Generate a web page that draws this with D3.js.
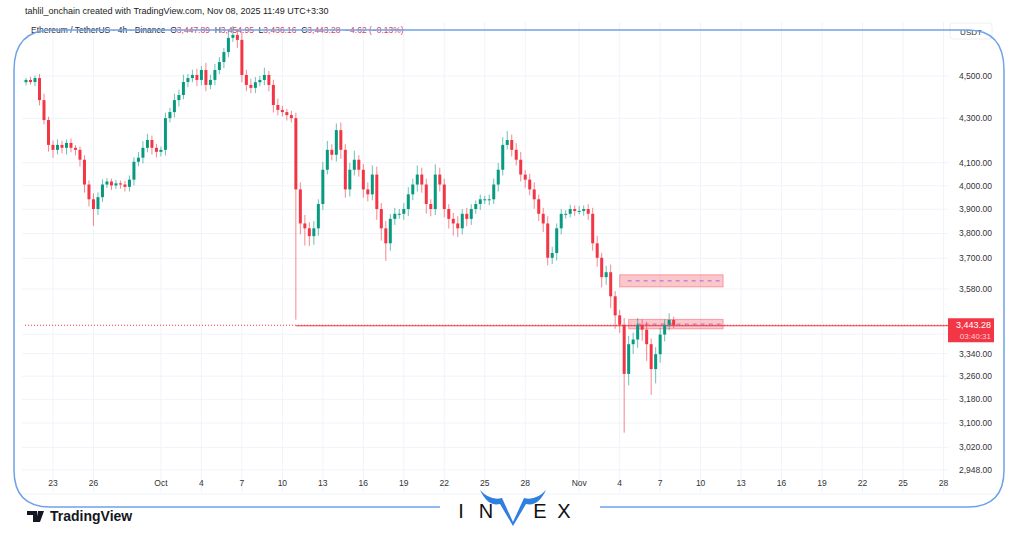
<!DOCTYPE html>
<html><head><meta charset="utf-8">
<script src="https://cdn.jsdelivr.net/npm/d3@7"></script>
<style>body{margin:0;background:#fff;}svg{display:block;font-family:"Liberation Sans",Arial,sans-serif;}</style>
</head><body>
<svg id="vis" width="1024" height="538"></svg>
<script>
// 8h candles, Sep 21 00:00 UTC onward; open = previous close
var closes = [4481,4471,4490,4385,4292,4179,4157,4179,4166,4188,4166,4157,4113,4005,3942,3901,3951,4005,4018,4001,
  4010,4005,3995,4026,4104,4122,4166,4201,4166,4148,4157,4301,4329,4385,4409,4471,4490,4505,4481,4529,4457,4481,
  4529,4568,4617,4688,4703,4678,4505,4457,4443,4470,4481,4505,4457,4362,4339,4329,4315,4301,3984,3841,3821,
  3789,3821,3922,4069,4157,4135,4246,4157,3984,4069,4113,4069,3984,3963,4048,3901,3821,3760,3860,3881,
  3881,3901,3963,4005,4048,4005,3922,3901,4048,4005,3901,3860,3841,3821,3881,3860,3901,3922,3942,3942,
  3942,4005,4069,4179,4201,4157,4113,4048,4026,3984,3942,3881,3841,3702,3721,3821,3881,3881,3901,3893,
  3893,3901,3881,3760,3702,3626,3645,3552,3480,3445,3268,3374,3391,3445,3427,3374,3285,3338,
  3409,3445,3463,3443.28];
var firstOpen = 4470;
// wick extension above max(open,close) and below min(open,close), in USDT
var wickUp = [10,15,12,20,30,15,20,25,18,15,20,12,15,20,18,25,20,22,15,12,
  15,12,15,18,20,25,30,28,20,18,15,25,20,30,25,35,20,25,30,20,35,25,
  30,25,20,40,45,30,40,25,30,25,20,35,20,25,30,20,15,20,25,30,35,
  25,30,20,35,40,25,30,35,25,30,40,20,25,30,40,35,25,30,20,25,
  20,25,30,25,40,30,25,20,45,30,25,20,25,30,20,25,20,15,20,15,
  20,25,30,35,40,25,30,35,20,25,30,20,25,30,25,20,20,15,18,15,
  20,15,20,25,30,20,25,30,20,20,25,30,25,25,20,30,20,25,
  25,20,25,12];
var wickDn = [15,12,20,25,20,30,35,20,25,30,20,25,30,35,30,70,25,20,15,20,
  15,18,20,20,25,20,25,20,30,25,20,25,20,25,30,20,25,20,30,25,30,20,
  25,20,30,25,20,40,35,30,25,25,20,25,30,35,25,20,25,20,520,45,70,
  40,35,30,25,20,25,30,40,35,30,25,30,35,30,25,45,50,70,30,25,
  20,25,30,25,30,35,40,30,25,30,35,40,50,35,25,30,25,20,25,20,
  25,20,30,25,20,30,25,30,35,25,40,30,35,30,25,30,25,20,15,20,
  15,20,25,30,35,40,30,45,50,30,200,40,35,30,40,60,90,50,
  30,25,20,10];

var priceTicks = [4500,4300,4100,4000,3900,3800,3700,3580,3410,3340,3260,3180,3100,3020,2948];
var timeTickDates = ["2025-09-23","2025-09-26","2025-10-01","2025-10-04","2025-10-07","2025-10-10","2025-10-13",
  "2025-10-16","2025-10-19","2025-10-22","2025-10-25","2025-10-28","2025-11-01","2025-11-04","2025-11-07",
  "2025-11-10","2025-11-13","2025-11-16","2025-11-19","2025-11-22","2025-11-25","2025-11-28"];
var lastPrice = 3443.28;
var zones = [{top:3635,bottom:3588,from:"2025-11-04T00:00Z",to:"2025-11-11T16:00Z"},
             {top:3465,bottom:3430,from:"2025-11-04T16:00Z",to:"2025-11-11T16:00Z"}];

var svg = d3.select("#vis");
var t0 = new Date("2025-09-21T00:00Z");
var x = d3.scaleUtc().domain([t0, new Date("2025-11-28T08:00Z")]).range([26, 948]);
var y = d3.scaleLog().domain([2885, 4738]).range([490, 28]);
var green = "#089981", red = "#f23645";

var candles = closes.map(function (c, i) {
  var o = i === 0 ? firstOpen : closes[i - 1];
  return {t: new Date(+t0 + i * 8 * 3600e3), o: o, c: c,
    h: Math.max(o, c) + wickUp[i], l: Math.min(o, c) - wickDn[i]};
});

// grid
var ticksT = timeTickDates.map(function (d) { return new Date(d + "T00:00Z"); });
svg.append("g").selectAll("line").data(ticksT).join("line")
  .attr("x1", d => x(d)).attr("x2", d => x(d)).attr("y1", 22).attr("y2", 492)
  .attr("stroke", "#f0f3fa");
svg.append("g").selectAll("line").data(priceTicks).join("line")
  .attr("x1", 22).attr("x2", 948).attr("y1", d => y(d)).attr("y2", d => y(d))
  .attr("stroke", "#f0f3fa");

// zones
zones.forEach(function (z) {
  svg.append("rect").attr("x", x(new Date(z.from))).attr("width", x(new Date(z.to)) - x(new Date(z.from)))
    .attr("y", y(z.top)).attr("height", y(z.bottom) - y(z.top))
    .attr("fill", "rgba(242,54,69,0.28)").attr("stroke", "rgba(242,54,69,0.4)");
  svg.append("line").attr("x1", x(new Date(z.from)) + 8).attr("x2", x(new Date(z.to)))
    .attr("y1", y((z.top + z.bottom) / 2)).attr("y2", y((z.top + z.bottom) / 2))
    .attr("stroke", "#9c6fd6").attr("stroke-dasharray", "4,4");
});

// last price lines
svg.append("line").attr("x1", 25).attr("x2", 948).attr("y1", y(lastPrice)).attr("y2", y(lastPrice))
  .attr("stroke", red).attr("stroke-dasharray", "1,2");
svg.append("line").attr("x1", x(candles[60].t)).attr("x2", 948).attr("y1", y(lastPrice) + 0.5).attr("y2", y(lastPrice) + 0.5)
  .attr("stroke", red).attr("stroke-width", 1.2);

// candles
var g = svg.append("g");
g.selectAll("line").data(candles).join("line")
  .attr("x1", d => x(d.t)).attr("x2", d => x(d.t)).attr("y1", d => y(d.h)).attr("y2", d => y(d.l))
  .attr("stroke", d => d.c >= d.o ? green : red).attr("stroke-opacity", 0.6);
g.selectAll("rect").data(candles).join("rect")
  .attr("x", d => x(d.t) - 1.5).attr("width", 3)
  .attr("y", d => y(Math.max(d.o, d.c))).attr("height", d => Math.max(1, y(Math.min(d.o, d.c)) - y(Math.max(d.o, d.c))))
  .attr("fill", d => d.c >= d.o ? green : red);

// price axis
svg.append("g").selectAll("text").data(priceTicks).join("text")
  .attr("x", 992).attr("y", d => y(d) + 3).attr("text-anchor", "end")
  .attr("font-size", 8.5).attr("fill", "#333").text(d => d3.format(",.2f")(d));
svg.append("rect").attr("x", 950).attr("y", 23).attr("width", 42).attr("height", 16).attr("rx", 3)
  .attr("fill", "#fff").attr("stroke", "#eee");
svg.append("text").attr("x", 971).attr("y", 35).attr("text-anchor", "middle").attr("font-size", 8).attr("fill", "#333").text("USDT");
svg.append("rect").attr("x", 948).attr("y", y(lastPrice) - 7).attr("width", 46).attr("height", 24).attr("fill", red);
svg.append("text").attr("x", 991).attr("y", y(lastPrice) + 3).attr("text-anchor", "end").attr("font-size", 9).attr("fill", "#fff").text(d3.format(",.2f")(lastPrice));
svg.append("text").attr("x", 991).attr("y", y(lastPrice) + 14).attr("text-anchor", "end").attr("font-size", 8).attr("fill", "#ffd0d4").text("03:40:31");

// time axis
var fmt = function (d) { return d.getUTCDate() === 1 ? d3.utcFormat("%b")(d) : d.getUTCDate(); };
svg.append("g").selectAll("text").data(ticksT).join("text")
  .attr("x", d => x(d)).attr("y", 486).attr("text-anchor", "middle")
  .attr("font-size", 8.5).attr("fill", "#333").text(fmt);
svg.append("line").attr("x1", 22).attr("x2", 1000).attr("y1", 494).attr("y2", 494).attr("stroke", "#f0f3fa");

// header texts
svg.append("text").attr("x", 25).attr("y", 14).attr("font-size", 9).attr("fill", "#222")
  .text("tahlil_onchain created with TradingView.com, Nov 08, 2025 11:49 UTC+3:30");
var leg = svg.append("text").attr("x", 31).attr("y", 33).attr("font-size", 8.5);
[["Ethereum / TetherUS · 4h · Binance  ", "#2a2e39"], ["O", "#2a2e39"], ["3,447.89  ", "#e0405a"], ["H", "#2a2e39"], ["3,454.95  ", "#e0405a"],
 ["L", "#2a2e39"], ["3,436.16  ", "#e0405a"], ["C", "#2a2e39"], ["3,443.28  −4.62 (−0.13%)", "#e0405a"]].forEach(function (p) {
  leg.append("tspan").attr("fill", p[1]).attr("xml:space", "preserve").text(p[0]);
});

// frame
svg.append("path").attr("d", "M440,507 H50 Q14,507 14,470 V70 Q14,30 52,30 H968 Q1004,30 1004,70 V470 Q1004,507 968,507 H600")
  .attr("fill", "none").attr("stroke", "#6ea3e8").attr("stroke-width", 1.5);

// logos
svg.append("path").attr("d", "M27,511 H37 V522 H33 V515 H27Z M38,511 H44 L40,522 H36Z").attr("fill", "#131722");
svg.append("circle").attr("cx", 40).attr("cy", 513).attr("r", 0).attr("fill", "#131722");
svg.append("text").attr("x", 50).attr("y", 521).attr("font-size", 14).attr("font-weight", "bold").attr("fill", "#131722").text("TradingView");
var ix = svg.append("g").attr("font-size", 20).attr("fill", "#111").attr("text-anchor", "middle");
[["I", 461], ["N", 486], ["E", 540], ["X", 564]].forEach(function (p) {
  ix.append("text").attr("x", p[1]).attr("y", 518).text(p[0]);
});
svg.append("path").attr("d", "M480,490 Q490,501 502,498 L513,522 L524,498 Q536,501 546,490 Q538,507 526,504 L513,526 L500,504 Q488,507 480,490Z")
  .attr("fill", "#2f7fe0");
</script>
</body></html>
